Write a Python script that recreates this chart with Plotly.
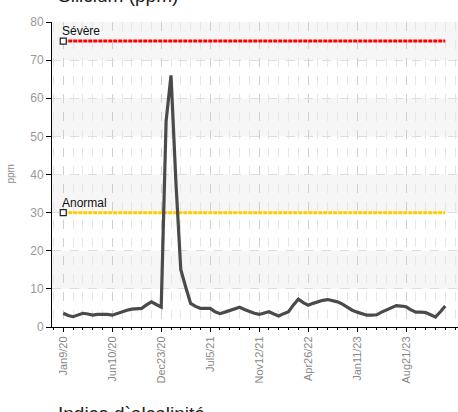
import plotly.graph_objects as go

# ---- data ----
silicium = [3.6, 3.0, 2.7, 3.1, 3.6, 3.4, 3.1, 3.3, 3.4, 3.3,
            3.1, 3.6, 4.0, 4.4, 4.7, 4.8, 4.9, 5.8, 6.6, 5.9,
            5.2, 54.0, 66.0, 38.0, 15.0, 10.5, 6.2, 5.4, 4.9, 4.9,
            4.9, 4.0, 3.5, 3.9, 4.3, 4.8, 5.2, 4.6, 4.0, 3.6,
            3.3, 3.6, 4.0, 3.4, 2.9, 3.5, 4.0, 5.8, 7.3, 6.4,
            5.7, 6.2, 6.7, 7.0, 7.2, 6.9, 6.6, 6.0, 5.2, 4.4,
            3.9, 3.4, 3.1, 3.1, 3.2, 3.9, 4.5, 5.1, 5.6, 5.5,
            5.3, 4.5, 3.9, 3.9, 3.8, 3.2, 2.6, 4.0, 5.5]
tick_labels = ["Jan9/20", "Jun10/20", "Dec23/20", "Jul5/21",
               "Nov12/21", "Apr26/22", "Jan11/23", "Aug21/23"]
tick_step = 10
severe_value = 75
severe_label = "Sévère"
abnormal_value = 30
abnormal_label = "Anormal"
y_max = 80
y_step = 10

FONT = "Liberation Sans, Arial, sans-serif"

x = list(range(len(silicium)))
tick_vals = [i * tick_step for i in range(len(tick_labels))]

fig = go.Figure()

# threshold lines
for val, lab, col in [(severe_value, severe_label, "#ff0000"),
                      (abnormal_value, abnormal_label, "#ffcc00")]:
    fig.add_trace(go.Scatter(
        x=[x[0], x[-1]], y=[val, val], mode="lines",
        line=dict(color=col, width=3, dash="4px,1px"),
        hoverinfo="skip", showlegend=False))
    fig.add_trace(go.Scatter(
        x=[x[0]], y=[val], mode="markers",
        marker=dict(symbol="square", size=6, color="white",
                    line=dict(color="#222222", width=1.2)),
        hoverinfo="skip", showlegend=False))
    fig.add_annotation(x=x[0], y=val, text=lab, showarrow=False,
                       xanchor="left", yanchor="bottom", yshift=1, xshift=-3,
                       font=dict(family=FONT, size=12, color="#111111"))

fig.add_trace(go.Scatter(
    x=x, y=silicium, mode="lines",
    line=dict(color="#4a4a4a", width=3.2),
    showlegend=False))

# alternating bands
for k in range(0, y_max, y_step):
    if (k // y_step) % 2 == 1:
        fig.add_shape(type="rect", xref="paper", yref="y",
                      x0=0, x1=1, y0=k, y1=k + y_step,
                      fillcolor="#f6f6f6", line_width=0, layer="below")

fig.add_annotation(xref="paper", yref="paper", x=0.01, y=1.0, yshift=14,
                   text="Silicium (ppm)", showarrow=False,
                   xanchor="left", yanchor="bottom",
                   font=dict(family=FONT, size=19, color="#222222"))
fig.add_annotation(xref="paper", yref="paper", x=0.01, y=0, yshift=-74,
                   text="Indice d`alcalinité", showarrow=False,
                   xanchor="left", yanchor="top",
                   font=dict(family=FONT, size=19, color="#222222"))
fig.add_annotation(xref="paper", yref="paper", x=0, y=0.5, xshift=-42,
                   text="ppm", showarrow=False, textangle=-90,
                   xanchor="center", yanchor="middle",
                   font=dict(family=FONT, size=10, color="#888888"))

fig.update_layout(
    width=458, height=412,
    margin=dict(l=52, r=0, t=22, b=85, autoexpand=False),
    plot_bgcolor="white", paper_bgcolor="white",
    font=dict(family=FONT),
    xaxis=dict(
        range=[-2.3, 80.6], automargin=False,
        tickmode="array", tickvals=tick_vals, ticktext=tick_labels,
        tickangle=-90, tickfont=dict(family=FONT, size=11, color="#888888"),
        showline=True, linecolor="#000000", linewidth=1,
        ticks="outside", ticklen=4, tickcolor="#000000",
        showgrid=True, gridcolor="#d0d0d0", griddash="dash", gridwidth=1,
        zeroline=False,
        minor=dict(dtick=2, tick0=0, ticks="outside", ticklen=2,
                   tickcolor="#000000", showgrid=True,
                   gridcolor="#e6e6e6", griddash="dash"),
    ),
    yaxis=dict(
        range=[0, y_max], dtick=y_step, automargin=False,
        tickfont=dict(family=FONT, size=12, color="#999999"),
        showline=True, linecolor="#000000", linewidth=1,
        ticks="outside", ticklen=5, tickcolor="#000000",
        showgrid=True, gridcolor="#dddddd", griddash="dash",
        zeroline=False,
    ),
)

fig.write_html("out.html", config={"displayModeBar": False},
               post_script="document.body.style.margin='0';document.body.style.overflow='hidden';")
